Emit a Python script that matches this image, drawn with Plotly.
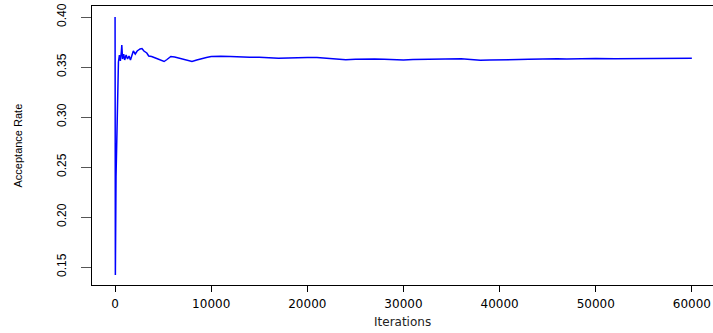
import plotly.graph_objects as go

iterations = [0, 30, 100, 200, 250, 350, 450, 550, 650, 700, 780, 900, 1000, 1150, 1300,
              1450, 1600, 1800, 1900, 2100, 2300, 2600, 2800, 3000, 3300, 3500, 3800, 4200,
              4700, 5100, 5400, 5800, 6200, 6600, 7100, 7600, 8000, 8500, 9000, 9500, 10000,
              10500, 11000, 12000, 13000, 14000, 15000, 16000, 17000, 18000, 19000, 20000,
              21000, 22000, 23000, 24000, 25000, 26000, 27000, 28000, 29000, 30000, 31000,
              32000, 33000, 34000, 35000, 36000, 37000, 38000, 39000, 40000, 41000, 42000,
              43000, 44000, 45000, 46000, 47000, 48000, 50000, 52000, 54000, 56000, 58000, 60000]
acceptance = [0.400, 0.142, 0.240, 0.300, 0.330, 0.355, 0.362, 0.356, 0.365, 0.372, 0.358,
              0.363, 0.357, 0.362, 0.358, 0.361, 0.357, 0.362, 0.366, 0.363, 0.366, 0.368,
              0.3685, 0.366, 0.364, 0.361, 0.3605, 0.359, 0.357, 0.3555, 0.3575, 0.3605,
              0.360, 0.359, 0.3575, 0.356, 0.3555, 0.357, 0.3585, 0.3595, 0.3605, 0.361,
              0.3608, 0.3605, 0.360, 0.3597, 0.3598, 0.3592, 0.3588, 0.3590, 0.3594, 0.3595,
              0.3594, 0.3585, 0.3578, 0.3572, 0.3578, 0.3582, 0.3580, 0.3577, 0.3572, 0.3571,
              0.3574, 0.3576, 0.3575, 0.3578, 0.3580, 0.3582, 0.3575, 0.3568, 0.3570, 0.3574,
              0.3572, 0.3575, 0.3578, 0.3582, 0.3585, 0.3583, 0.3580, 0.3582, 0.3585, 0.3582,
              0.3584, 0.3582, 0.3585, 0.3587]

x_ticks = [0, 10000, 20000, 30000, 40000, 50000, 60000]
y_ticks = [0.15, 0.20, 0.25, 0.30, 0.35, 0.40]
y_tick_labels = ["0.15", "0.20", "0.25", "0.30", "0.35", "0.40"]

fig = go.Figure()
fig.add_trace(go.Scatter(x=iterations, y=acceptance, mode="lines",
                         line=dict(color="#0000ff", width=1.5), showlegend=False))

narrow = "Liberation Sans Narrow, Liberation Sans, Arial, sans-serif"
wide = "DejaVu Sans, Verdana, sans-serif"

fig.update_layout(
    width=713, height=333,
    margin=dict(l=92, r=0, t=6, b=48),
    paper_bgcolor="white", plot_bgcolor="white",
    xaxis=dict(range=[-2400, 62200], tickvals=x_ticks, ticktext=[str(v) for v in x_ticks],
               showgrid=False, zeroline=False, showline=True, mirror=True, automargin=False,
               linecolor="black", linewidth=1, ticks="outside", ticklen=6,
               tickcolor="black", tickfont=dict(family=wide, size=12, color="black"),
               ticklabelstandoff=2),
    yaxis=dict(range=[0.132, 0.411], tickvals=y_ticks, ticktext=y_tick_labels,
               showgrid=False, zeroline=False, showline=True, mirror=False, automargin=False,
               linecolor="black", linewidth=1, ticks="outside", ticklen=10,
               tickcolor="#555555", tickangle=-90,
               tickfont=dict(family=narrow, size=12, color="black"),
               ticklabelstandoff=10),
    annotations=[
        dict(text="Acceptance Rate", xref="paper", yref="paper", x=0, y=0.5,
             xshift=-75, textangle=-90, showarrow=False, xanchor="center", yanchor="middle",
             font=dict(family=narrow, size=11, color="black")),
        dict(text="Iterations", xref="paper", yref="paper", x=(402 - 92) / 621, y=0,
             yshift=-37, showarrow=False, xanchor="center", yanchor="middle",
             font=dict(family=wide, size=12, color="#222222")),
    ],
)

fig.write_html("out.html", config={"displayModeBar": False},
               post_script="document.body.style.margin='0px';")
